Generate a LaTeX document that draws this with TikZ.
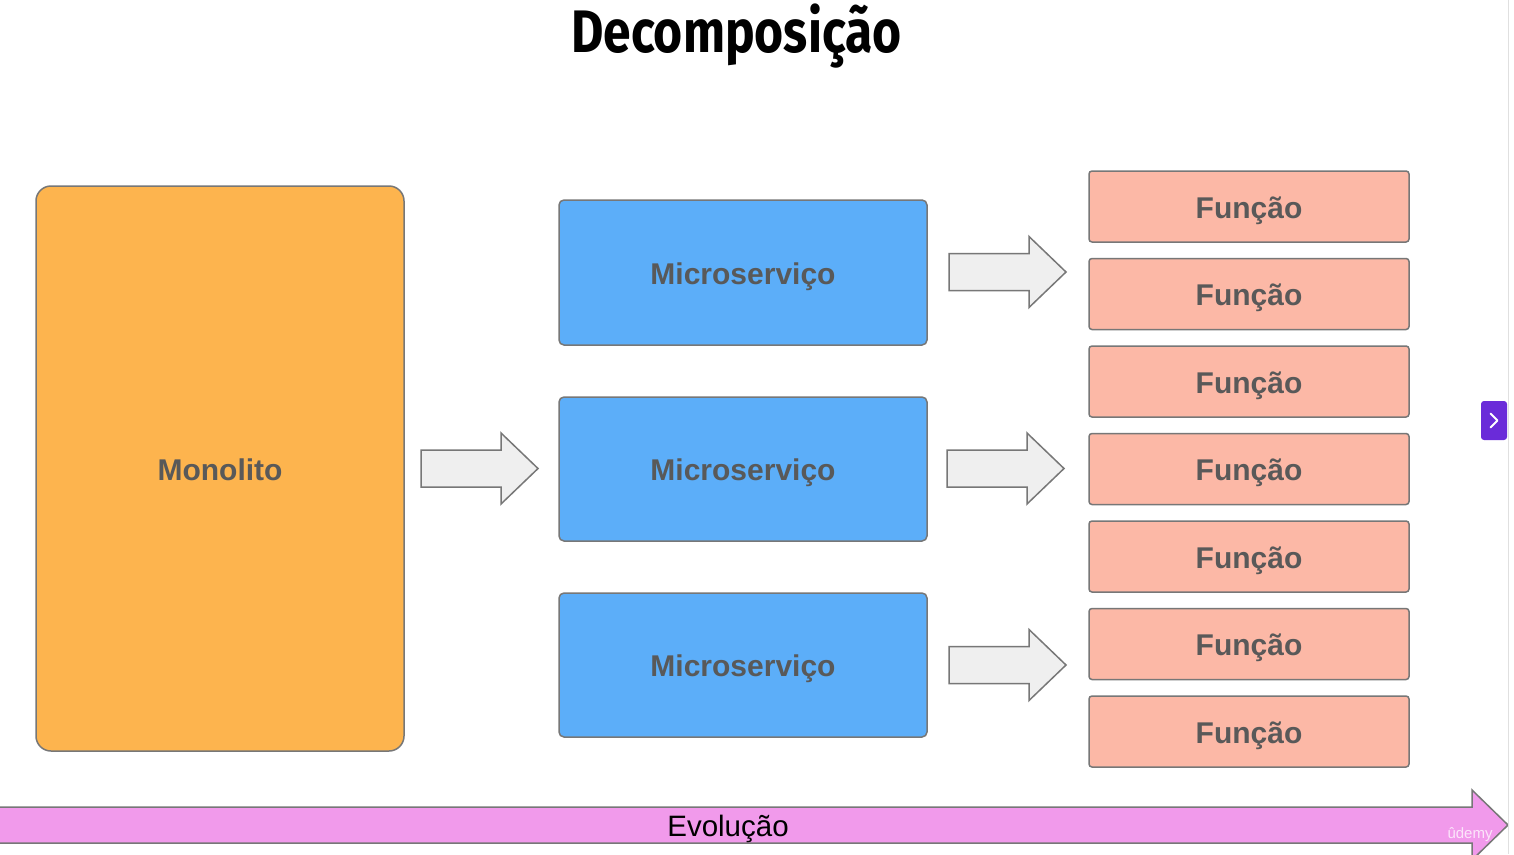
\documentclass[tikz,border=0pt]{standalone}
\usepackage{fontspec}
\setmainfont{Liberation Sans}
\newfontfamily\titlefont[FakeStretch=0.83]{Fira Sans}
\definecolor{orangebox}{HTML}{FDB44E}
\definecolor{bluebox}{HTML}{5CAEF9}
\definecolor{salmonbox}{HTML}{FCB8A6}
\definecolor{arrowfill}{HTML}{EFEFEF}
\definecolor{edgegray}{HTML}{777777}
\definecolor{labelgray}{HTML}{595959}
\definecolor{pinkarrow}{HTML}{F19AEB}
\definecolor{udpurple}{HTML}{6A2BD9}
\tikzset{
  boxlabel/.style={font=\fontsize{30}{35}\selectfont\bfseries, text=labelgray, text height=23.5pt, text depth=0pt},
  monobox/.style={draw=edgegray, line width=1.5pt, fill=orangebox, rounded corners=15pt, boxlabel},
  microbox/.style={draw=edgegray, line width=1.5pt, fill=bluebox, rounded corners=5pt, boxlabel},
  funcbox/.style={draw=edgegray, line width=1.5pt, fill=salmonbox, rounded corners=3pt, boxlabel},
  blockarrow/.style={draw=edgegray, line width=1.5pt, fill=arrowfill, line join=miter},
}
% block arrow: #1 = left x, #2 = right x, #3 = center y
\newcommand{\blkarrow}[3]{%
  \draw[blockarrow] (#1,#3-18.5) -- (#2-37,#3-18.5) -- (#2-37,#3-35.5) -- (#2,#3)
    -- (#2-37,#3+35.5) -- (#2-37,#3+18.5) -- (#1,#3+18.5) -- cycle;}
\begin{document}
\begin{tikzpicture}[x=1pt,y=-1pt]
\useasboundingbox[fill=white] (0,0) rectangle (1514,854);
% title
\node[font=\titlefont\bfseries\fontsize{60}{66}\selectfont, anchor=base, inner sep=0pt] (title) at (736.5,52) {Decomposição};
% monolith
\node[monobox, minimum width=368pt, minimum height=565pt] (mono) at (220,468.5) {Monolito};
% microservices
\node[microbox, minimum width=368pt, minimum height=145pt] (m1) at (743,272.5) {Microserviço};
\node[microbox, minimum width=368pt, minimum height=144pt] (m2) at (743,469) {Microserviço};
\node[microbox, minimum width=368pt, minimum height=144pt] (m3) at (743,665) {Microserviço};
% functions
\foreach \i/\yc in {1/206.5, 2/294, 3/381.5, 4/469, 5/556.5, 6/644, 7/731.5}{
  \node[funcbox, minimum width=320pt, minimum height=71pt] (f\i) at (1249,\yc) {Função};
}
% block arrows
\blkarrow{421}{538}{468.5}
\blkarrow{949}{1066}{272}
\blkarrow{947}{1064}{468.5}
\blkarrow{949}{1066}{665}
% evolution arrow
\draw[draw=edgegray, line width=1.5pt, fill=pinkarrow] (-3,807) -- (1472,807) -- (1472,790) -- (1508,825)
  -- (1472,860) -- (1472,843) -- (-3,843) -- cycle;
\node[font=\fontsize{29.5}{34}\selectfont, text=black, text height=22pt, text depth=0pt] (evo) at (728,825) {Evolução};
% right side UI
\draw[color=black!12, line width=1pt] (1508.5,0) -- (1508.5,854);
\node[fill=udpurple, rounded corners=3pt, minimum width=26pt, minimum height=39pt, inner sep=0pt] (nextbtn) at (1494,420.5) {};
\draw[white, line width=2pt, line cap=round, line join=round] (1490.5,413.5) -- (1497.5,420.5) -- (1490.5,427.5);
\node[font=\fontsize{15}{18}\selectfont, text=white, opacity=0.75] (wm) at (1470,835) {ûdemy};
\end{tikzpicture}
\end{document}
